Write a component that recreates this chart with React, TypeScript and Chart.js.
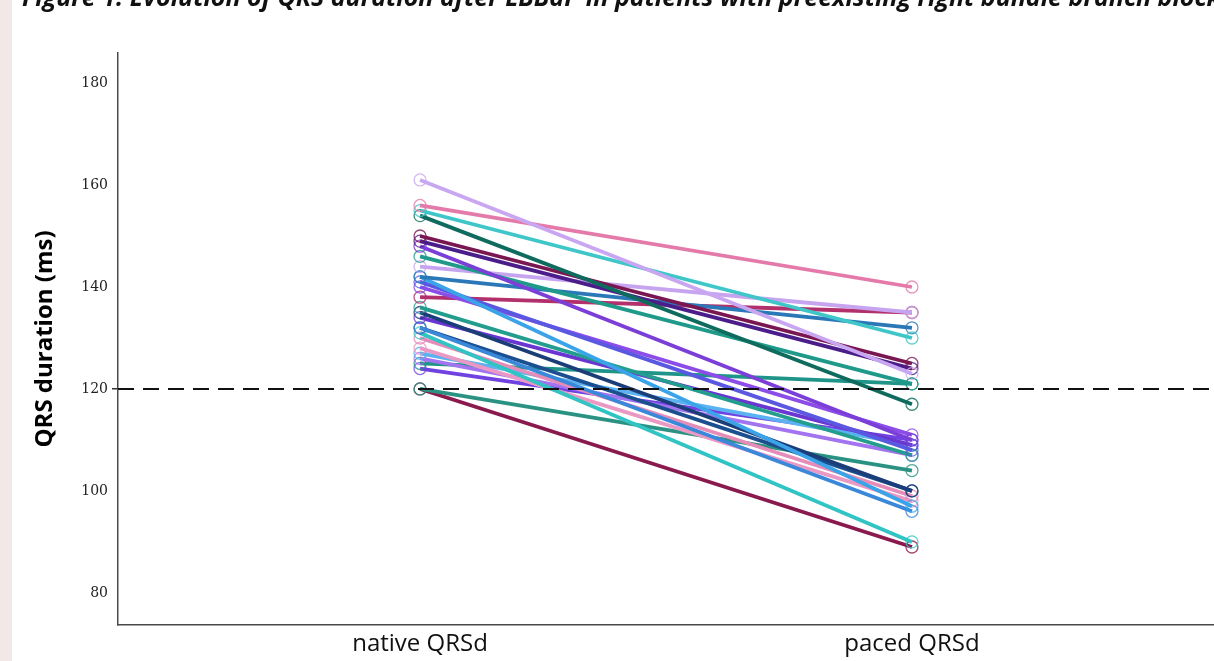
import React, { useEffect, useRef } from "react";
import { Chart, registerables } from "chart.js";

Chart.register(...registerables);

// Measurement time points (x axis categories)
const conditions = ["native QRSd", "paced QRSd"];

// QRS duration per patient (ms) before and after pacing
const nativeQRSd = [161, 156, 155, 154, 150, 149, 148, 146, 144, 142, 142, 141, 140, 138, 136, 135, 134, 132, 132, 131, 130, 128, 127, 126, 125, 124, 120, 120];
const pacedQRSd = [123, 140, 130, 117, 125, 124, 110, 121, 135, 132, 97, 108, 111, 135, 107, 100, 109, 96, 100, 90, 99, 98, 109, 107, 121, 110, 104, 89];

const patientColors = [
  "#c9a6f2", "#e47aaa", "#3ec6c8", "#0f6b5e", "#7a1650", "#4a1d8a", "#7b3fd8",
  "#1f9a8a", "#c7a4ef", "#2a78b8", "#3ba4e8", "#5a58e0", "#8b4ce8", "#b2306c",
  "#239d8e", "#1b3d78", "#6a36d2", "#3a88da", "#1c4f8f", "#32c4c4", "#e58cb8",
  "#ea98c4", "#5ab2f0", "#a274f0", "#1f9488", "#7142e2", "#2a9282", "#8a1a4e",
];

const yTicks = [80, 100, 120, 140, 160, 180];
const normalLimit = 120;

const Y_MIN = 73.7;
const Y_MAX = 185.9;
const X_MIN = -0.614;
const X_MAX = 1.614;

const figureTitle =
  "Figure 1. Evolution of QRS duration after LBBaP in patients with preexisting right bundle branch block";

export default function App() {
  const canvasRef = useRef<HTMLCanvasElement | null>(null);

  useEffect(() => {
    const canvas = canvasRef.current;
    if (!canvas) return;

    const patientSets = nativeQRSd.map((v, i) => ({
      label: "patient " + (i + 1),
      data: [
        { x: 0, y: v },
        { x: 1, y: pacedQRSd[i] },
      ],
      borderColor: patientColors[i],
      borderWidth: 3.8,
      pointRadius: 6,
      pointBorderWidth: 1.3,
      pointBorderColor: patientColors[i] + "cc",
      pointBackgroundColor: "rgba(255,255,255,0)",
      showLine: true,
      tension: 0,
    }));

    const limitSet = {
      label: "limit",
      data: [
        { x: X_MIN, y: normalLimit },
        { x: X_MAX, y: normalLimit },
      ],
      borderColor: "#111",
      borderWidth: 2,
      borderDash: [16, 9],
      pointRadius: 0,
      showLine: true,
    };

    const chart = new Chart(canvas, {
      type: "scatter",
      data: { datasets: [limitSet, ...patientSets] as any },
      options: {
        animation: false,
        responsive: false,
        devicePixelRatio: 1,
        layout: { autoPadding: false, padding: { top: 53, right: 0, bottom: 0, left: 0 } },
        plugins: {
          legend: { display: false },
          tooltip: { enabled: false },
        },
        scales: {
          x: {
            type: "linear",
            min: X_MIN,
            max: X_MAX,
            afterBuildTicks: (scale: any) => {
              scale.ticks = conditions.map((_, i) => ({ value: i }));
            },
            afterFit: (scale: any) => {
              scale.height = 36;
            },
            ticks: {
              callback: (v: any) => conditions[v] ?? "",
              color: "#111",
              padding: 5,
              maxRotation: 0,
              font: { family: "'Open Sans', sans-serif", size: 24 },
            },
            grid: { display: true, drawOnChartArea: false, drawTicks: false, color: "transparent" },
            border: { display: true, color: "#4a4a4a", width: 1.5 },
          },
          y: {
            type: "linear",
            min: Y_MIN,
            max: Y_MAX,
            afterBuildTicks: (scale: any) => {
              scale.ticks = yTicks.map((v) => ({ value: v }));
            },
            afterFit: (scale: any) => {
              scale.width = 118;
            },
            ticks: {
              color: "#222",
              padding: 4,
              font: { family: "'DejaVu Serif', serif", size: 14 },
            },
            grid: {
              drawOnChartArea: false,
              drawTicks: true,
              tickLength: 6,
              lineWidth: 1.5,
              color: (ctx: any) => (ctx.tick && ctx.tick.value === normalLimit ? "#333" : "transparent"),
            },
            border: { display: true, color: "#4a4a4a", width: 1.5 },
            title: {
              display: true,
              text: "QRS duration (ms)",
              color: "#000",
              padding: { top: 31, bottom: 0 },
              font: { family: "'Open Sans', sans-serif", size: 24, weight: "bold" },
            },
          },
        },
      },
    });

    return () => chart.destroy();
  }, []);

  return (
    <div
      style={{
        position: "fixed",
        left: 0,
        top: 0,
        width: 1214,
        height: 661,
        background: "#fff",
        overflow: "hidden",
      }}
    >
      <canvas ref={canvasRef} width={1214} height={661} style={{ position: "absolute", left: 0, top: 0 }} />
      <div
        style={{
          position: "absolute",
          left: 0,
          top: 0,
          width: 12,
          height: 661,
          background: "#f3e8e8",
        }}
      />
      <div
        style={{
          position: "absolute",
          left: 22,
          top: -16,
          whiteSpace: "nowrap",
          fontFamily: "'Open Sans', sans-serif",
          fontWeight: "bold",
          fontStyle: "italic",
          fontSize: 25,
          lineHeight: "25px",
          color: "#111",
        }}
      >
        {figureTitle}
      </div>
    </div>
  );
}
